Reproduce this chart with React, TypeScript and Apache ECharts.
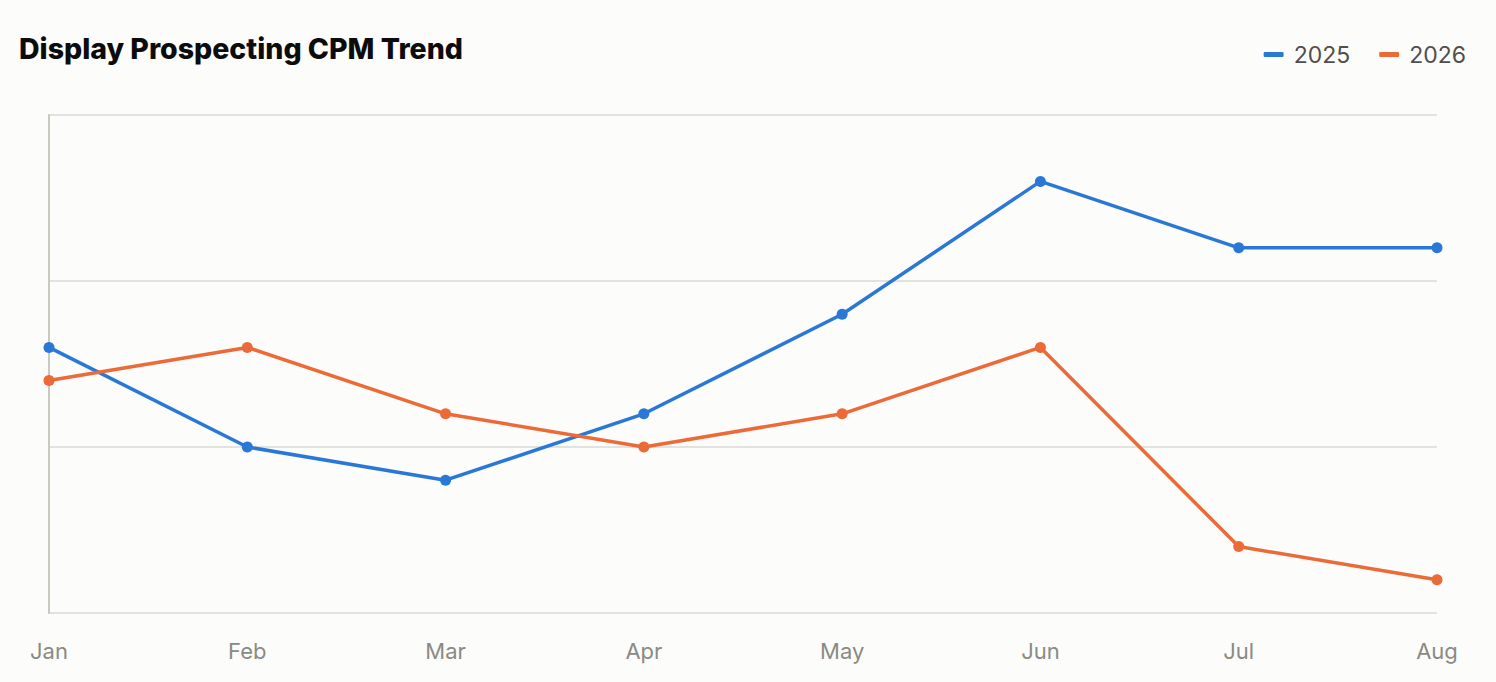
import { useEffect, useRef } from "react";
import * as echarts from "echarts";

const months = ["Jan", "Feb", "Mar", "Apr", "May", "Jun", "Jul", "Aug"];
const cpm2025 = [8, 5, 4, 6, 9, 13, 11, 11];
const cpm2026 = [7, 8, 6, 5, 6, 8, 2, 1];
const yMin = 0;
const yMax = 15;
const yStep = 5;

const BLUE = "#2a78d6";
const ORANGE = "#ec6a37";

export default function App() {
  const chartRef = useRef<HTMLDivElement | null>(null);

  useEffect(() => {
    document.body.style.margin = "0";
    if (!chartRef.current) {
      return;
    }
    const chart = echarts.init(chartRef.current, undefined, { renderer: "svg" });
    chart.setOption({
      animation: false,
      backgroundColor: "#fcfcfb",
      title: {
        text: "Display Prospecting CPM Trend",
        left: 14,
        top: 29,
        textStyle: {
          fontFamily: "Inter",
          fontSize: 28.5,
          fontWeight: 800,
          color: "#0c0c0c"
        }
      },
      legend: {
        right: 25,
        top: 38,
        itemWidth: 20,
        itemHeight: 5,
        itemGap: 29,
        icon: "roundRect",
        textStyle: {
          fontFamily: "Inter",
          fontSize: 23,
          color: "#4f4f4f",
          padding: [0, 0, 0, 5]
        },
        data: ["2025", "2026"]
      },
      grid: { left: 49, right: 59, top: 115, bottom: 69, containLabel: false },
      xAxis: {
        type: "category",
        boundaryGap: false,
        data: months,
        axisLine: { show: false },
        axisTick: { show: false },
        axisLabel: {
          margin: 27,
          fontFamily: "Inter",
          fontSize: 22,
          color: "#8a8a85"
        }
      },
      yAxis: {
        type: "value",
        min: yMin,
        max: yMax,
        interval: yStep,
        axisLine: { show: true, lineStyle: { color: "#c9c9c0", width: 2 } },
        axisTick: { show: false },
        axisLabel: { show: false },
        splitLine: { lineStyle: { color: "#e2e2de", width: 2 } }
      },
      series: [
        {
          name: "2025",
          type: "line",
          data: cpm2025,
          symbol: "circle",
          symbolSize: 11,
          lineStyle: { width: 3.5, color: BLUE },
          itemStyle: { color: BLUE }
        },
        {
          name: "2026",
          type: "line",
          data: cpm2026,
          symbol: "circle",
          symbolSize: 11,
          lineStyle: { width: 3.5, color: ORANGE },
          itemStyle: { color: ORANGE }
        }
      ]
    });
    return () => {
      chart.dispose();
    };
  }, []);

  return <div ref={chartRef} style={{ width: 1496, height: 682 }} />;
}
